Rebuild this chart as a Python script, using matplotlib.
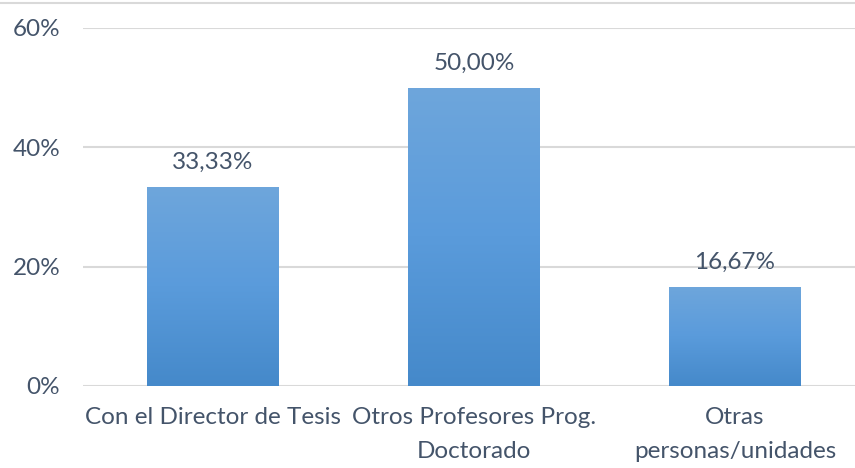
import numpy as np
import matplotlib.pyplot as plt
import matplotlib.patheffects as pe
from matplotlib.lines import Line2D
from matplotlib.colors import LinearSegmentedColormap

categories = ["Con el Director de Tesis", "Otros Profesores Prog.\nDoctorado", "Otras\npersonas/unidades"]
values = [33.33, 50.00, 16.67]
labels = ["33,33%", "50,00%", "16,67%"]
yticks = [0, 20, 40, 60]

text_color = "#44546A"
fs = 17.5
plt.rcParams["font.family"] = ["Lato", "DejaVu Sans"]

fig = plt.figure(figsize=(8.55, 4.68), dpi=100)
ax = fig.add_axes([82.5 / 855, 1 - 386 / 468, 783 / 855, 358 / 468])

x = np.arange(len(values))
bars = ax.bar(x, values, width=0.502, color="#5B9BD5", zorder=2,
              path_effects=[pe.SimplePatchShadow(offset=(0, -1), shadow_rgbFace="#999999", alpha=0.5), pe.Normal()])

# vertical gradient inside each bar
grad = np.linspace(0, 1, 256).reshape(-1, 1)
cmap = LinearSegmentedColormap.from_list("g", ["#4589CA", "#5A9BDB", "#6EA6DC"])
for b in bars:
    x0, y0 = b.get_x(), b.get_y()
    im = ax.imshow(grad, extent=(x0, x0 + b.get_width(), y0, y0 + b.get_height()),
                   origin="lower", cmap=cmap, aspect="auto", zorder=3)
    im.set_clip_path(b)

for b, lab in zip(bars, labels):
    ax.annotate(lab, (b.get_x() + b.get_width() / 2, b.get_height()),
                xytext=(0, 10), textcoords="offset points", ha="center", va="bottom",
                fontsize=fs, color=text_color)

ax.set_xlim(-0.5, len(values) - 0.5)
ax.set_ylim(0, 60)
ax.set_yticks(yticks)
ax.set_yticklabels([f"{t}%" for t in yticks], fontsize=fs, color=text_color)
ax.set_xticks(x)
ax.set_xticklabels(categories, fontsize=fs, color=text_color, linespacing=1.75)
ax.tick_params(length=0)
ax.tick_params(axis="x", pad=15)
ax.tick_params(axis="y", pad=16)
ax.grid(axis="y", color="#D9D9D9", linewidth=1.5, zorder=0)
for s in ax.spines.values():
    s.set_visible(False)

fig.add_artist(Line2D([0, 1], [1 - 3 / 468, 1 - 3 / 468], color="#D9D9D9", linewidth=1.5))

fig.savefig("out.png", dpi=100)
